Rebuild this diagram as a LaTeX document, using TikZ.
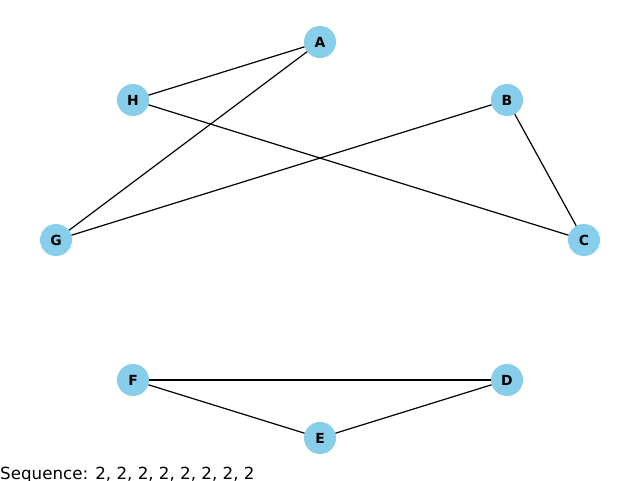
\documentclass[tikz,border=0pt]{standalone}
\usepackage{fontspec}
\setmainfont{DejaVu Sans}
\begin{document}
\begin{tikzpicture}[x=1pt,y=-1pt,
  vertex/.style={circle,fill=vcol,draw=none,minimum size=32pt,inner sep=0pt,
    font=\fontsize{13.9}{14}\selectfont\bfseries},
  link/.style={draw=black,line width=1.2pt}]
\definecolor{vcol}{HTML}{87CEEB}
\useasboundingbox (0,0) rectangle (640,480);
\clip (0,0) rectangle (640,480);
% vertices on an ellipse around (320,240)
\node[vertex] (A) at (320,42) {A};
\node[vertex] (B) at (507,100) {B};
\node[vertex] (C) at (584,240) {C};
\node[vertex] (D) at (507,380) {D};
\node[vertex] (E) at (320,438) {E};
\node[vertex] (F) at (133,380) {F};
\node[vertex] (G) at (56,240) {G};
\node[vertex] (H) at (133,100) {H};
% edges
\draw[link] (A) -- (H);
\draw[link] (A) -- (G);
\draw[link] (H) -- (C);
\draw[link] (B) -- (G);
\draw[link] (B) -- (C);
\draw[link] (F) -- (D);
\draw[link] (F) -- (E);
\draw[link] (E) -- (D);
% caption, partly cut by the lower edge
\node[anchor=base west,inner sep=0pt,font=\fontsize{16.7}{18}\selectfont] (seq) at (0,479.5) {Sequence: 2, 2, 2, 2, 2, 2, 2, 2};
\end{tikzpicture}
\end{document}
